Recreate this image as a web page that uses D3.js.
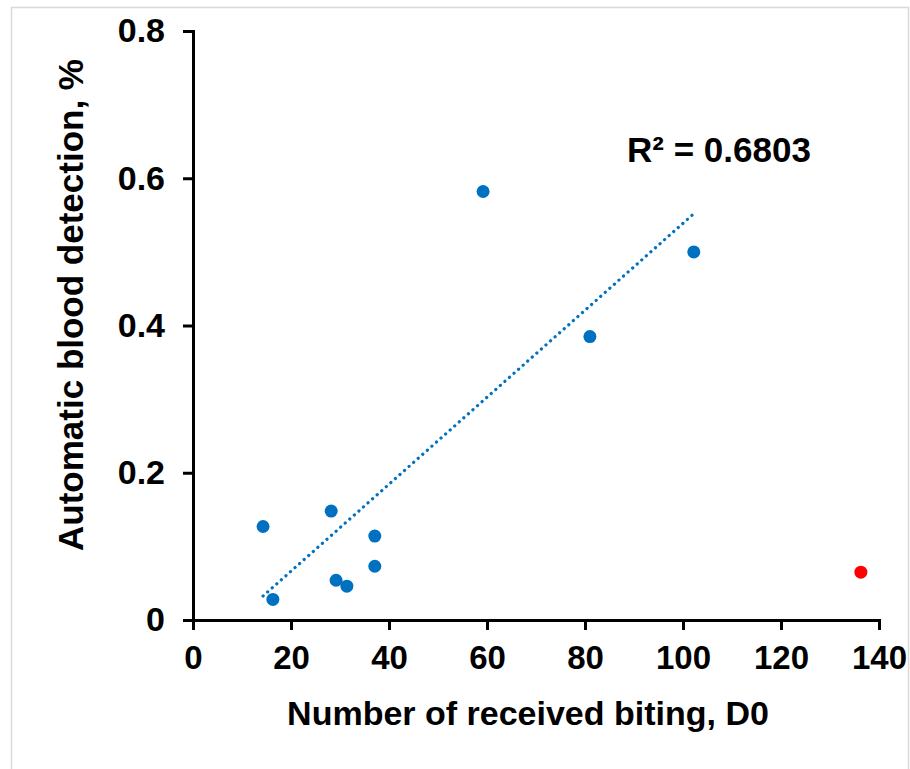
<!DOCTYPE html>
<html>
<head>
<meta charset="utf-8">
<script src="https://cdn.jsdelivr.net/npm/d3@7"></script>
<style>
  body { margin: 0; background: #fff; }
  svg text { font-family: "Liberation Sans", Arial, sans-serif; font-weight: bold; fill: #000; }
</style>
</head>
<body>
<svg id="chart" width="910" height="769"></svg>
<script>
// values
const biting = [14.3, 16.3, 28.2, 29.2, 31.4, 37.1, 37.1, 59.2, 81.0, 102.2];
const detection = [0.127, 0.028, 0.148, 0.054, 0.046, 0.114, 0.073, 0.582, 0.385, 0.500];
const outlierBiting = [136.3];
const outlierDetection = [0.065];
const xTicks = [0, 20, 40, 60, 80, 100, 120, 140];
const yTicks = [0, 0.2, 0.4, 0.6, 0.8];
const r2Label = 'R² = 0.6803';

const svg = d3.select('#chart');

svg.append('rect')
  .attr('x', 11.5).attr('y', 7.5)
  .attr('width', 897).attr('height', 775)
  .attr('fill', 'none')
  .attr('stroke', '#d9d9d9')
  .attr('stroke-width', 1.5);

const x = d3.scaleLinear().domain([0, 140]).range([193, 879]);
const y = d3.scaleLinear().domain([0, 0.8]).range([620, 31]);

// linear trend from the blue points
const mx = d3.mean(biting), my = d3.mean(detection);
const sxy = d3.sum(biting, (v, i) => (v - mx) * (detection[i] - my));
const sxx = d3.sum(biting, (v) => (v - mx) ** 2);
const slope = sxy / sxx;
const icept = my - slope * mx;
const [xmin, xmax] = d3.extent(biting);

const xAxis = svg.append('g')
  .attr('transform', `translate(0,${y(0)})`)
  .call(d3.axisBottom(x).tickValues(xTicks).tickFormat(d3.format('d')).tickSize(10).tickPadding(16));
const yAxis = svg.append('g')
  .attr('transform', `translate(${x(0)},0)`)
  .call(d3.axisLeft(y).tickValues(yTicks).tickFormat((d) => (d === 0 ? '0' : d3.format('.1f')(d))).tickSize(10).tickPadding(18));

[xAxis, yAxis].forEach((g) => {
  g.attr('font-family', null).attr('font-size', null);
  g.select('.domain').attr('stroke', '#000').attr('stroke-width', 3);
  g.selectAll('.tick line').attr('stroke', '#000').attr('stroke-width', 3);
});
xAxis.selectAll('.tick text').style('font-size', '33px');
yAxis.selectAll('.tick text').style('font-size', '34px');

svg.append('line')
  .attr('x1', x(xmin)).attr('y1', y(slope * xmin + icept))
  .attr('x2', x(xmax)).attr('y2', y(slope * xmax + icept))
  .attr('stroke', '#0070c0')
  .attr('stroke-width', 3.2)
  .attr('stroke-linecap', 'round')
  .attr('stroke-dasharray', '0.1 6');

svg.append('g').selectAll('circle')
  .data(biting.map((b, i) => [b, detection[i]]))
  .join('circle')
  .attr('cx', (d) => x(d[0]))
  .attr('cy', (d) => y(d[1]))
  .attr('r', 6.5)
  .attr('fill', '#0070c0');

svg.append('g').selectAll('circle')
  .data(outlierBiting.map((b, i) => [b, outlierDetection[i]]))
  .join('circle')
  .attr('cx', (d) => x(d[0]))
  .attr('cy', (d) => y(d[1]))
  .attr('r', 6.5)
  .attr('fill', '#ff0000');

svg.append('text')
  .attr('x', 627).attr('y', 162)
  .style('font-size', '35px')
  .text(r2Label);

svg.append('text')
  .attr('x', 528).attr('y', 725)
  .attr('text-anchor', 'middle')
  .style('font-size', '34px')
  .text('Number of received biting, D0');

svg.append('text')
  .attr('transform', 'translate(83,305) rotate(-90)')
  .attr('text-anchor', 'middle')
  .style('font-size', '35px')
  .text('Automatic blood detection, %');
</script>
</body>
</html>
